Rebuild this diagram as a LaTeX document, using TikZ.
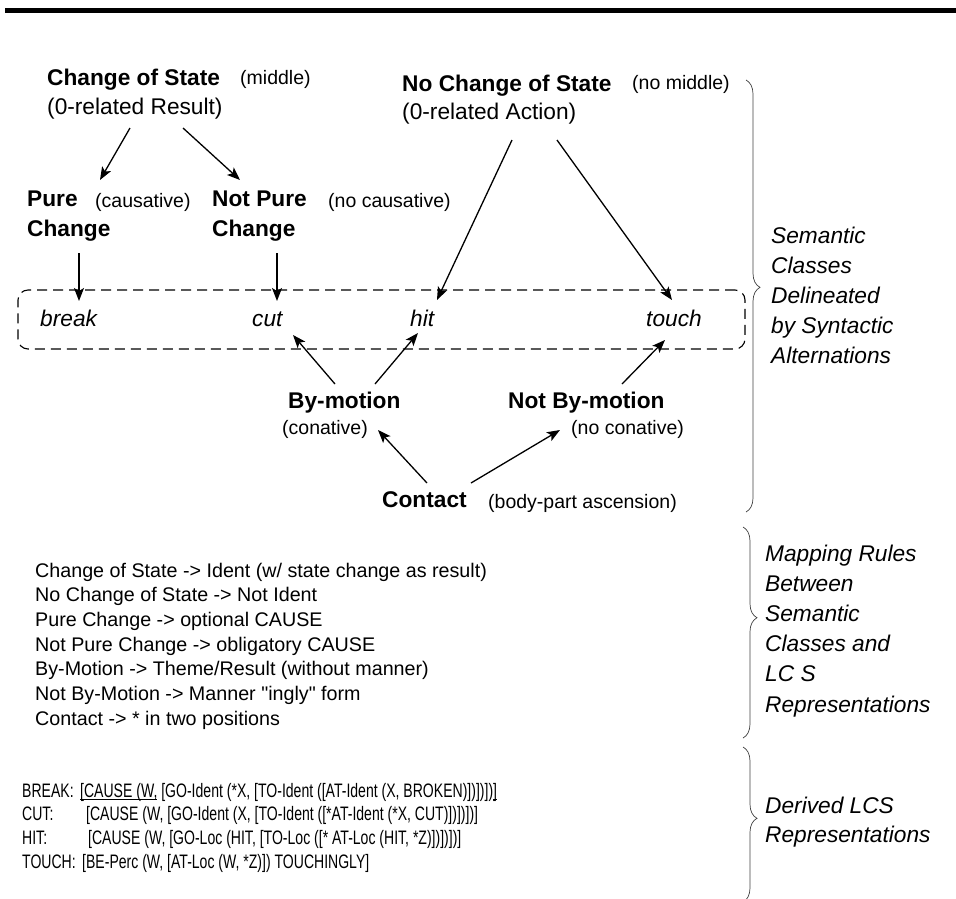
\documentclass[tikz,border=0pt]{standalone}
\usepackage{fontspec}
\setmainfont{Liberation Sans}
\newfontfamily\narrowfont[FakeStretch=0.72]{Liberation Sans}
\usetikzlibrary{arrows.meta,decorations.pathreplacing}

% stacked lines with a fixed line pitch; the box baseline is the first line
\newcommand\stacklines[2]{\vtop{\baselineskip=#1pt\lineskiplimit=-20pt\relax #2}}
% underline drawn as a slightly heavier rule just under the baseline
\newlength\ulwd
\newcommand\ulined[1]{\settowidth\ulwd{#1}\rlap{\rule[-2.6pt]{\ulwd}{1.1pt}}#1}

\begin{document}
\begin{tikzpicture}[x=1pt,y=-1pt,
  txt/.style={anchor=base west, inner sep=0pt, font=\fontsize{22.7}{27}\selectfont},
  hd/.style={txt, font=\fontsize{22.7}{27}\selectfont\bfseries},
  note/.style={txt, font=\fontsize{19.5}{24}\selectfont},
  verb/.style={txt, font=\fontsize{22.7}{27}\selectfont\itshape},
  side/.style={txt, font=\fontsize{22.7}{27}\selectfont\itshape},
  rules/.style={txt, font=\fontsize{19.7}{24}\selectfont},
  lcs/.style={txt, font=\fontsize{19.5}{24}\narrowfont},
  arr/.style={line width=1.3pt, -{Stealth[length=13pt,width=10pt,inset=3pt]}},
  curly/.style={decorate, decoration={brace, amplitude=14pt, aspect=#1},
                draw=black!75, line width=0.7pt},
]
\useasboundingbox (0,0) rectangle (956,898);

% heavy rule across the top
\fill (5,8) rectangle (956,13);

% --- class hierarchy -------------------------------------------------
\node[hd]   (cos)    at (47,85)  {Change of State};
\node[note] (cosm)   at (240,84) {(middle)};
\node[txt]  (cosr)   at (47,114) {(0-related Result)};

\node[hd]   (ncs)    at (402,91) {No Change of State};
\node[note] (ncsm)   at (632,89) {(no middle)};
\node[txt]  (ncsr)   at (402,119) {(0-related Action)};

\node[hd]   (pureA)  at (27,206) {Pure};
\node[hd]   (pureB)  at (27,236) {Change};
\node[note] (purec)  at (95,207) {(causative)};

\node[hd]   (npureA) at (212,206) {Not Pure};
\node[hd]   (npureB) at (212,236) {Change};
\node[note] (npurec) at (328,207) {(no causative)};

% verbs inside the dashed class box
\node[draw, dashed, dash pattern=on 10pt off 6pt, line width=1.1pt,
      rounded corners=10pt, minimum width=727pt, minimum height=59pt,
      inner sep=0pt] (verbs) at (381.5,319.5) {};
\node[verb] (break) at (40,326)  {break};
\node[verb] (cut)   at (252,326) {cut};
\node[verb] (hit)   at (410,326) {hit};
\node[verb] (touch) at (646,326) {touch};

\node[hd]   (bym)   at (288,408) {By-motion};
\node[note] (bymc)  at (282,434) {(conative)};
\node[hd]   (nbym)  at (508,408) {Not By-motion};
\node[note] (nbymc) at (571,434) {(no conative)};

\node[hd]   (contact)  at (382,507) {Contact};
\node[note] (contactc) at (488,508) {(body-part ascension)};

% --- connectors ------------------------------------------------------
\draw[arr] ([shift={(83,14)}]cosr.base west)   -- ([shift={(73,-26)}]pureA.base west);
\draw[arr] ([shift={(136,14)}]cosr.base west)  -- ([shift={(28,-26)}]npureA.base west);
\draw[arr] ([shift={(52,17)}]pureB.base west)  -- ([shift={(39,-25)}]break.base west);
\draw[arr] ([shift={(65,17)}]npureB.base west) -- ([shift={(25,-25)}]cut.base west);
\draw[arr] ([shift={(110,21)}]ncsr.base west)  -- ([shift={(27,-26)}]hit.base west);
\draw[arr] ([shift={(155,21)}]ncsr.base west)  -- ([shift={(26,-26)}]touch.base west);
\draw[arr] ([shift={(47,-24)}]bym.base west)   -- ([shift={(41,9)}]cut.base west);
\draw[arr] ([shift={(87,-24)}]bym.base west)   -- ([shift={(8,7)}]hit.base west);
\draw[arr] ([shift={(114,-24)}]nbym.base west) -- ([shift={(19,14)}]touch.base west);
\draw[arr] ([shift={(45,-24)}]contact.base west) -- ([shift={(96,-4)}]bymc.base west);
\draw[arr] ([shift={(89,-24)}]contact.base west) -- ([shift={(-11,-4)}]nbymc.base west);

% --- mapping rules ---------------------------------------------------
\node[rules] (maprules) at (35,577) {\stacklines{24.7}{%
  \hbox{Change of State -> Ident (w/ state change as result)}
  \hbox{No Change of State -> Not Ident}
  \hbox{Pure Change -> optional CAUSE}
  \hbox{Not Pure Change -> obligatory CAUSE}
  \hbox{By-Motion -> Theme/Result (without manner)}
  \hbox{Not By-Motion -> Manner \textquotedbl ingly\textquotedbl\ form}
  \hbox{Contact -> * in two positions}}};

% --- derived LCS representations -------------------------------------
\node[lcs] (lcsreps) at (22,797) {\stacklines{23.8}{%
  \hbox{\makebox[58pt][l]{BREAK:}\ulined{[CAUSE (W,} [GO-Ident (*X, [TO-Ident ([AT-Ident (X, BROKEN)])])])\ulined{]}}
  \hbox{\makebox[64pt][l]{CUT:}[CAUSE (W, [GO-Ident (X, [TO-Ident ([*AT-Ident (*X, CUT)])])])]}
  \hbox{\makebox[66pt][l]{HIT:}[CAUSE (W, [GO-Loc (HIT, [TO-Loc ([* AT-Loc (HIT, *Z)])])])]}
  \hbox{\makebox[60pt][l]{TOUCH:}[BE-Perc (W, [AT-Loc (W, *Z)]) TOUCHINGLY]}}};

% --- braces and their captions ---------------------------------------
\draw[curly=0.48] (746,80) -- (746,512);
\draw[curly=0.43] (743,527) -- (743,738);
\draw[curly=0.46] (743,747) -- (743,902);

\node[side] (semcap) at (771,243) {\stacklines{30}{%
  \hbox{Semantic}\hbox{Classes}\hbox{Delineated}\hbox{by Syntactic}\hbox{Alternations}}};
\node[side] (mapcap) at (765,561) {\stacklines{30.2}{%
  \hbox{Mapping Rules}\hbox{Between}\hbox{Semantic}\hbox{Classes and}\hbox{LC S}\hbox{Representations}}};
\node[side] (lcscap) at (765,813) {\stacklines{29.5}{%
  \hbox{Derived LCS}\hbox{Representations}}};
\end{tikzpicture}
\end{document}
